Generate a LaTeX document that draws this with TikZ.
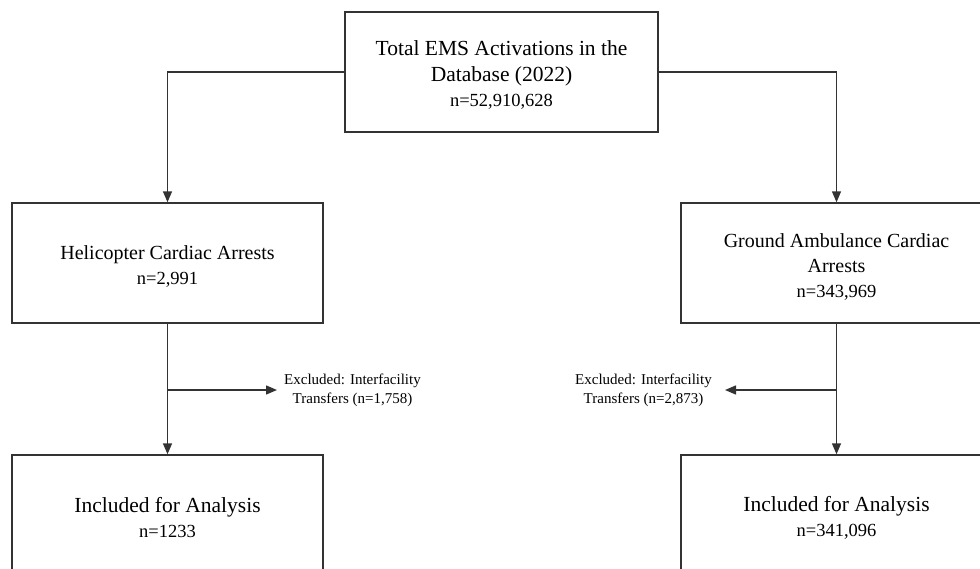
\documentclass[tikz,border=0pt]{standalone}
\usepackage{fontspec}
\setmainfont{Liberation Serif}
\usetikzlibrary{arrows.meta, positioning}

\newcommand{\ncount}[1]{{\fontsize{18.5}{22}\selectfont #1}}
\newcommand{\topgap}{\rule{0pt}{21pt}}

\begin{document}
\begin{tikzpicture}[x=1pt, y=-1pt,
        box/.style={draw=black!80, line width=1.4pt, minimum width=311pt, minimum height=120pt,
            inner sep=0pt, align=center, font=\fontsize{20}{25}\selectfont},
        excl/.style={align=center, inner sep=0pt, font=\fontsize{15}{19}\selectfont},
        link/.style={draw=black!80, line width=1.4pt, -{Triangle[length=11pt, width=9pt]}}]
    \useasboundingbox (0,0) rectangle (980,568);
    \clip (0,0) rectangle (980,568);

    % boxes
    \node [box, minimum width=313pt, font=\fontsize{21.5}{25.5}\selectfont] (total) at (501.5,72)
        {\topgap Total EMS Activations in the\\Database (2022)\\\ncount{n=52,910,628}};
    \node [box] (heli) at (167.5,263) {\topgap Helicopter Cardiac Arrests\\\ncount{n=2,991}};
    \node [box] (ground) at (836.5,263) {\topgap Ground Ambulance Cardiac\\Arrests\\\ncount{n=343,969}};
    \node [box, font=\fontsize{21.5}{25}\selectfont] (heliincl) at (167.5,515)
        {\topgap Included for Analysis\\\ncount{n=1233}};
    \node [box, font=\fontsize{21.5}{25}\selectfont] (groundincl) at (836.5,515)
        {\topgap Included for Analysis\\\ncount{n=341,096}};

    % exclusions
    \node [excl, anchor=west] (heliexcl) at (284,390) {Excluded: Interfacility\\Transfers (n=1,758)};
    \node [excl, anchor=east] (groundexcl) at (712,390) {Excluded: Interfacility\\Transfers (n=2,873)};

    % connectors
    \draw [link] (total.west) -| (heli.north);
    \draw [link] (total.east) -| (ground.north);
    \draw [link] (heli.south) -- (heliincl.north);
    \draw [link] (ground.south) -- (groundincl.north);
    \draw [link] (heli.south |- heliexcl.west) -- ([xshift=-7pt]heliexcl.west);
    \draw [link] (ground.south |- groundexcl.east) -- ([xshift=13pt]groundexcl.east);
\end{tikzpicture}
\end{document}
